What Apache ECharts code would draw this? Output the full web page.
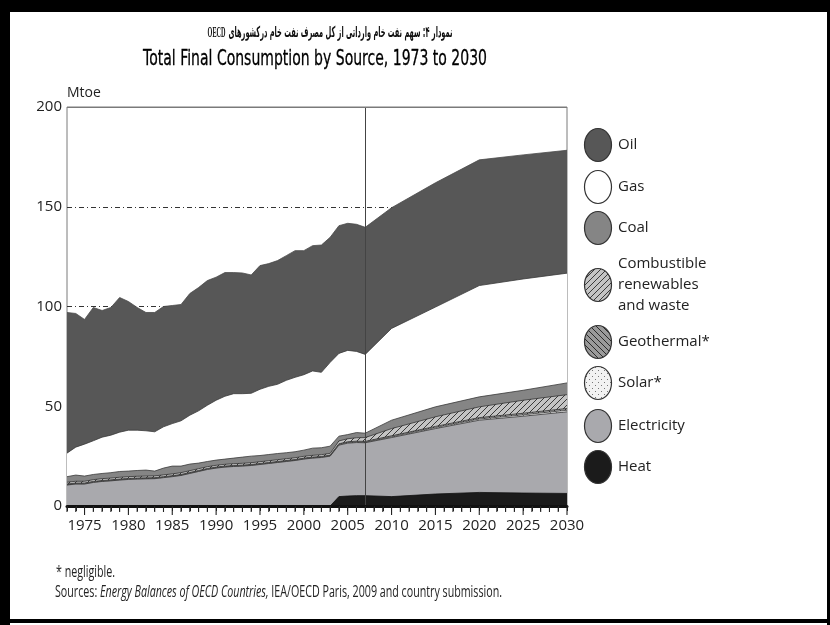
<!DOCTYPE html>
<html>
<head>
<meta charset="utf-8">
<script src="https://cdn.jsdelivr.net/npm/echarts@6/dist/echarts.min.js"></script>
<style>
  html, body { margin: 0; padding: 0; background: #fff; }
  #main { width: 830px; height: 625px; }
</style>
</head>
<body>
<div id="main"></div>
<script>
// years on the x axis (actuals to 2007, projections after)
const years = [1973, 1974, 1975, 1976, 1977, 1978, 1979, 1980, 1981, 1982, 1983, 1984, 1985, 1986,
  1987, 1988, 1989, 1990, 1991, 1992, 1993, 1994, 1995, 1996, 1997, 1998, 1999, 2000, 2001, 2002,
  2003, 2004, 2005, 2006, 2007, 2010, 2015, 2020, 2025, 2030];

// layer values, Mtoe (bottom -> top)
const heat = [0, 0, 0, 0, 0, 0, 0, 0, 0, 0, 0, 0, 0, 0, 0, 0, 0, 0, 0, 0, 0, 0, 0, 0, 0, 0, 0, 0, 0, 0,
  0, 4.7, 5, 5.2, 5.2, 4.7, 6, 6.8, 6.5, 6.3];
const electricity = [10.5, 11, 11, 11.8, 12.3, 12.6, 13, 13.3, 13.5, 13.6, 13.7, 14.2, 14.7, 15.3,
  16.3, 17.3, 18.3, 19, 19.5, 19.8, 20, 20.3, 20.8, 21.3, 21.8, 22.3, 22.8, 23.5, 24, 24.3,
  25, 25.8, 26.5, 26.6, 26.5, 29.6, 32.8, 36.2, 38.5, 40.9];
const solar = [0.2, 0.2, 0.2, 0.2, 0.2, 0.2, 0.2, 0.2, 0.2, 0.2, 0.2, 0.2, 0.2, 0.2, 0.2, 0.2, 0.2,
  0.2, 0.2, 0.2, 0.2, 0.2, 0.2, 0.2, 0.2, 0.2, 0.2, 0.2, 0.2, 0.2, 0.2, 0.3, 0.3, 0.3, 0.3,
  0.4, 0.5, 0.6, 0.7, 0.8];
const geothermal = [0.3, 0.3, 0.3, 0.3, 0.3, 0.3, 0.3, 0.3, 0.3, 0.3, 0.3, 0.3, 0.3, 0.3, 0.3, 0.3,
  0.3, 0.3, 0.3, 0.3, 0.3, 0.3, 0.3, 0.3, 0.3, 0.3, 0.3, 0.3, 0.3, 0.3, 0.3, 0.4, 0.4, 0.4, 0.4,
  0.5, 0.6, 0.7, 0.8, 0.9];
const combustible = [0.9, 0.9, 0.9, 0.9, 0.9, 0.9, 0.9, 0.9, 0.9, 0.9, 0.9, 0.9, 0.9, 0.9, 0.9, 0.9,
  0.9, 0.9, 0.9, 0.9, 0.9, 0.9, 0.9, 0.9, 0.9, 0.9, 0.9, 0.9, 0.9, 0.9, 0.9, 1.4, 1.5, 1.7, 1.9,
  3.6, 4.8, 5.4, 6.5, 6.9];
const coal = [2.8, 3.1, 2.6, 2.6, 2.6, 2.7, 2.9, 2.8, 2.9, 3.0, 2.4, 3.4, 3.9, 3.3, 3.3, 2.8, 2.6,
  2.6, 2.6, 2.8, 3.1, 3.3, 3.1, 3.1, 3.1, 3.0, 3.0, 3.1, 3.6, 3.5, 3.6, 2.4, 2.1, 2.6, 2.2,
  4.2, 5.0, 5.0, 5.0, 5.9];
const gas = [11.8, 14, 16, 16.9, 18.2, 18.8, 19.7, 20.5, 20.2, 19.7, 19.7, 20.7, 21.3, 22.7, 24.5,
  26.2, 28.2, 30, 31.5, 32.3, 31.8, 31.5, 33.2, 34.2, 34.7, 36.3, 37.3, 37.8, 38.7, 37.8, 42,
  41.5, 42.2, 40.7, 39.5, 46, 50, 55.8, 55.8, 55];
const oil = [70.5, 67, 62.5, 66.8, 63.5, 64, 67.5, 64.5, 61.5, 59.3, 59.8, 60.3, 59.2, 58.3, 61,
  61.8, 62.5, 61.7, 62, 60.7, 60.5, 59.3, 62, 61.5, 62, 62.5, 63.5, 62.2, 62.8, 63.8, 62.7,
  64, 63.7, 63.7, 63.7, 60.5, 62.3, 63, 62.2, 61.6];

const tickYears = [1975, 1980, 1985, 1990, 1995, 2000, 2005, 2010, 2015, 2020, 2025, 2030];
const projectionStart = 2007;

// one tick per year along the bottom axis
const yearTicks = [];
for (let y = 1973; y <= 2030; y++) yearTicks.push([y, 0]);

// fill patterns
function pattern(kind) {
  const c = document.createElement('canvas');
  c.width = 6; c.height = 6;
  const g = c.getContext('2d');
  if (kind === 'hatch') {
    g.fillStyle = '#c4c4c4'; g.fillRect(0, 0, 6, 6);
    g.strokeStyle = '#3a3a3a'; g.lineWidth = 1;
    g.beginPath(); g.moveTo(-1, 7); g.lineTo(7, -1); g.moveTo(-1, 1); g.lineTo(1, -1);
    g.moveTo(5, 7); g.lineTo(7, 5); g.stroke();
  } else if (kind === 'wave') {
    g.fillStyle = '#9a9a9a'; g.fillRect(0, 0, 6, 6);
    g.strokeStyle = '#2a2a2a'; g.lineWidth = 1;
    g.beginPath(); g.moveTo(-1, -1); g.lineTo(7, 7); g.moveTo(5, -1); g.lineTo(7, 1);
    g.moveTo(-1, 5); g.lineTo(1, 7); g.stroke();
  } else {
    g.fillStyle = '#f2f2f2'; g.fillRect(0, 0, 6, 6);
    g.fillStyle = '#777';
    g.fillRect(1, 1, 1, 1); g.fillRect(4, 4, 1, 1);
  }
  return { image: c, repeat: 'repeat' };
}

const colors = {
  Oil: '#575757',
  Gas: '#ffffff',
  Coal: '#858585',
  Combustible: pattern('hatch'),
  Geothermal: pattern('wave'),
  Solar: pattern('dots'),
  Electricity: '#a9a9ad',
  Heat: '#1b1b1b'
};

// layers bottom -> top; each area is filled from 0 up to its running total,
// painted from the top layer down so lower layers sit in front
const layers = [
  { name: 'Heat', vals: heat, fill: colors.Heat, edge: '#111' },
  { name: 'Electricity', vals: electricity, fill: colors.Electricity, edge: '#333' },
  { name: 'Solar', vals: solar, fill: colors.Solar, edge: '#444' },
  { name: 'Geothermal', vals: geothermal, fill: colors.Geothermal, edge: '#333' },
  { name: 'Combustible', vals: combustible, fill: colors.Combustible, edge: '#333' },
  { name: 'Coal', vals: coal, fill: colors.Coal, edge: '#3a3a3a' },
  { name: 'Gas', vals: gas, fill: colors.Gas, edge: '#3a3a3a' },
  { name: 'Oil', vals: oil, fill: colors.Oil, edge: '#4a4a4a' }
];

const running = years.map(() => 0);
const series = layers.map(l => {
  const data = years.map((y, i) => {
    running[i] += l.vals[i];
    return [y, +running[i].toFixed(2)];
  });
  return {
    name: l.name,
    type: 'line',
    symbol: 'none',
    silent: true,
    data: data,
    lineStyle: { width: 0.8, color: l.edge },
    areaStyle: { color: l.fill, opacity: 1 }
  };
}).reverse();

series[series.length - 1].markLine = {
  silent: true,
  symbol: ['none', 'none'],
  label: { show: false },
  data: [
    { xAxis: projectionStart, lineStyle: { color: '#444', width: 1, type: 'solid' } },
    { yAxis: 200, lineStyle: { color: '#7a7a7a', width: 1, type: 'solid' } }
  ]
};

// year ticks under the axis, placed through the x scale, on their own layer
series.push({
  type: 'custom',
  silent: true,
  clip: false,
  zlevel: 1,
  z: 10,
  data: yearTicks,
  encode: { x: 0, y: 1 },
  renderItem: (params, api) => {
    const yr = api.value(0);
    const p = api.coord([yr, 0]);
    const len = tickYears.indexOf(yr) >= 0 ? 8 : 5;
    return {
      type: 'line',
      shape: { x1: p[0], y1: p[1] + 1, x2: p[0], y2: p[1] + 1 + len },
      style: { stroke: '#222', lineWidth: 1.1 }
    };
  }
});

// text width fitting
const mctx = document.createElement('canvas').getContext('2d');
function textWidth(font, text) {
  mctx.font = font;
  return mctx.measureText(text).width;
}

const titleFont = '21px "DejaVu Sans"';
const titleText = 'Total Final Consumption by Source, 1973 to 2030';
const faText = 'نمودار ۴: سهم نفت خام وارداتی از کل مصرف نفت خام درکشورهای';
const faFont = 'bold 15px "DejaVu Sans"';
const enFont = 'bold 14px "Liberation Serif"';
const faScale = 245 / (textWidth(enFont, 'OECD  ') + textWidth(faFont, faText));

const noteFont = '16px "Open Sans"';
const noteItalic = 'italic 16px "Open Sans"';
const srcA = 'Sources: ', srcB = 'Energy Balances of OECD Countries,', srcC = ' IEA/OECD Paris, 2009 and country submission.';
const srcScale = 447 / (textWidth(noteFont, srcA + srcC) + textWidth(noteItalic, srcB));

const legendItems = [
  { name: 'Oil', fill: colors.Oil, cy: 145 },
  { name: 'Gas', fill: colors.Gas, cy: 187 },
  { name: 'Coal', fill: colors.Coal, cy: 228 },
  { name: 'Combustible\nrenewables\nand waste', fill: colors.Combustible, cy: 285 },
  { name: 'Geothermal*', fill: colors.Geothermal, cy: 342 },
  { name: 'Solar*', fill: colors.Solar, cy: 383 },
  { name: 'Electricity', fill: colors.Electricity, cy: 426 },
  { name: 'Heat', fill: colors.Heat, cy: 467 }
];

const graphic = [];
legendItems.forEach(it => {
  graphic.push({
    type: 'ellipse', silent: true,
    shape: { cx: 598, cy: it.cy, rx: 13.5, ry: 16.5 },
    style: { fill: it.fill, stroke: '#333', lineWidth: 1.2 }
  });
  graphic.push({
    type: 'text', silent: true, x: 618, y: it.cy,
    style: {
      text: it.name, x: 0, y: 0, font: '15px "Open Sans"', fill: '#222',
      lineHeight: 21, align: 'left', verticalAlign: 'middle',
      textAlign: 'left', textVerticalAlign: 'middle'
    }
  });
});

graphic.push(
  {
    type: 'text', silent: true, x: 315, y: 60,
    scaleX: 344 / textWidth(titleFont, titleText),
    style: {
      text: titleText, x: 0, y: 0, font: titleFont, fill: '#000',
      stroke: '#000', lineWidth: 0.3,
      align: 'center', verticalAlign: 'middle', textAlign: 'center', textVerticalAlign: 'middle'
    }
  },
  {
    type: 'text', silent: true, x: 330, y: 33,
    scaleX: faScale,
    style: {
      text: '{e|OECD}  {f|' + faText + '}',
      x: 0, y: 0, fill: '#111',
      align: 'center', verticalAlign: 'middle', textAlign: 'center', textVerticalAlign: 'middle',
      rich: {
        e: { font: enFont, fill: '#111' },
        f: { font: faFont, fill: '#111' }
      }
    }
  },
  {
    type: 'text', silent: true, x: 56, y: 572,
    scaleX: srcScale,
    style: {
      text: '* negligible.', x: 0, y: 0, font: noteFont, fill: '#222',
      align: 'left', verticalAlign: 'middle', textAlign: 'left', textVerticalAlign: 'middle'
    }
  },
  {
    type: 'text', silent: true, x: 55, y: 592,
    scaleX: srcScale,
    style: {
      text: '{n|' + srcA + '}{i|' + srcB + '}{n|' + srcC + '}',
      x: 0, y: 0, fill: '#222',
      align: 'left', verticalAlign: 'middle', textAlign: 'left', textVerticalAlign: 'middle',
      rich: {
        n: { font: noteFont, fill: '#222' },
        i: { font: noteItalic, fill: '#222' }
      }
    }
  },
  // page frame
  { type: 'rect', silent: true, shape: { x: 0, y: 0, width: 830, height: 12 }, style: { fill: '#000' } },
  { type: 'rect', silent: true, shape: { x: 0, y: 0, width: 10, height: 625 }, style: { fill: '#000' } },
  { type: 'rect', silent: true, shape: { x: 0, y: 619, width: 830, height: 4 }, style: { fill: '#000' } },
  { type: 'rect', silent: true, shape: { x: 827, y: 0, width: 3, height: 625 }, style: { fill: '#000' } }
);

const chart = echarts.init(document.getElementById('main'), null, { renderer: 'canvas' });
chart.setOption({
  animation: false,
  backgroundColor: '#fff',
  grid: {
    left: 67, right: 263, top: 107, bottom: 119,
    show: true, borderColor: '#7a7a7a', borderWidth: 1
  },
  xAxis: {
    type: 'value', min: 1973, max: 2030, interval: 1, zlevel: 1, z: 5,
    axisLine: { show: true, onZero: false, lineStyle: { color: '#111', width: 3 } },
    axisTick: { show: true, length: 5, lineStyle: { color: '#222', width: 1 } },
    axisLabel: {
      color: '#222', fontSize: 15, margin: 12, fontFamily: 'Open Sans',
      formatter: v => (tickYears.indexOf(v) >= 0 ? String(v) : '')
    },
    splitLine: { show: false }
  },
  yAxis: {
    type: 'value', min: 0, max: 200, interval: 50,
    name: 'Mtoe', nameLocation: 'end', nameGap: 4,
    nameTextStyle: { align: 'left', color: '#222', fontSize: 14, fontFamily: 'Open Sans' },
    axisLine: { show: false },
    axisTick: { show: false },
    axisLabel: { color: '#222', fontSize: 15, margin: 5, fontFamily: 'Open Sans' },
    splitLine: { show: true, lineStyle: { color: '#333', width: 1, type: [5, 3, 1, 3] } }
  },
  series: series,
  graphic: graphic
});
</script>
</body>
</html>
